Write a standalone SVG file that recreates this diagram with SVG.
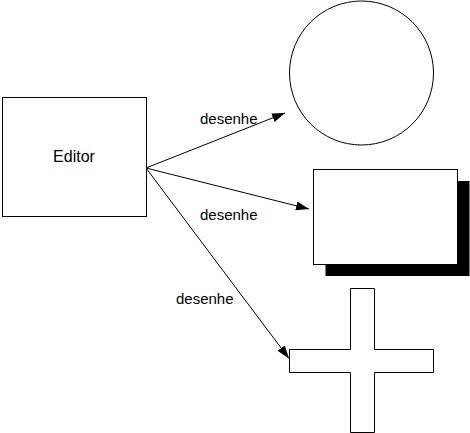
<svg xmlns="http://www.w3.org/2000/svg" width="470" height="433" viewBox="0 0 470 433">
<style>
.shape{fill:#fff;stroke:#000;stroke-width:1}
.conn{fill:none;stroke:#000;stroke-width:1}
.lbl{font-family:"Liberation Sans",Arial,sans-serif;font-size:15px;fill:#000}
.name{font-family:"Liberation Sans",Arial,sans-serif;font-size:16px;fill:#000;text-anchor:middle}
</style>
<defs>
<marker id="arr" markerWidth="14" markerHeight="10" refX="13" refY="4.5" orient="auto" markerUnits="userSpaceOnUse">
<path d="M0,0 L13,4.5 L0,9 Z" fill="#000"/>
</marker>
</defs>
<rect width="470" height="433" fill="#fff"/>
<g id="editor">
<rect class="shape" x="2.5" y="97.5" width="144" height="119"/>
<text class="name" x="74" y="162">Editor</text>
</g>
<g id="circle">
<circle class="shape" cx="361.5" cy="73" r="72"/>
</g>
<g id="rectangle">
<rect x="325.5" y="181" width="144" height="95" fill="#000"/>
<rect class="shape" x="313.5" y="169.5" width="144" height="95"/>
</g>
<g id="cross">
<polygon class="shape" points="350.5,288.5 374.5,288.5 374.5,349.5 433.5,349.5 433.5,372.5 374.5,372.5 374.5,432.5 350.5,432.5 350.5,372.5 289.5,372.5 289.5,349.5 350.5,349.5"/>
</g>
<g id="connectors">
<line class="conn" x1="146" y1="168" x2="285" y2="113" marker-end="url(#arr)"/>
<line class="conn" x1="146" y1="168" x2="309" y2="209" marker-end="url(#arr)"/>
<line class="conn" x1="146" y1="168" x2="289" y2="358.5" marker-end="url(#arr)"/>
<text class="lbl" x="200" y="124">desenhe</text>
<text class="lbl" x="200" y="220">desenhe</text>
<text class="lbl" x="176" y="304">desenhe</text>
</g>
</svg>
